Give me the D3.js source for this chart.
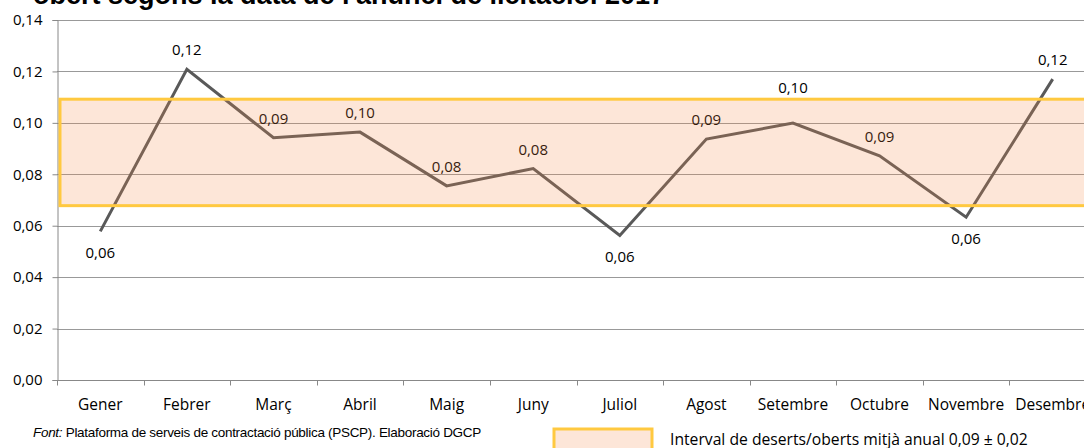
<!DOCTYPE html>
<head>
<meta charset="utf-8">
</head>
<style>
  body { margin: 0; background: #fff; }
  svg { display: block; }
  .tick text { font-family: 'Open Sans', sans-serif; font-size: 15px; fill: #000; }
</style>
<svg width="1084" height="448"></svg>
<script src="https://d3js.org/d3.v7.min.js"></script>
<script>
// data
var months = ["Gener", "Febrer", "Març", "Abril", "Maig", "Juny", "Juliol",
              "Agost", "Setembre", "Octubre", "Novembre", "Desembre"];
var ratio = [0.0578, 0.1208, 0.0942, 0.0964, 0.0755, 0.0822, 0.0562,
             0.0937, 0.0999, 0.0872, 0.0633, 0.1170];
var labels = ["0,06", "0,12", "0,09", "0,10", "0,08", "0,08", "0,06",
              "0,09", "0,10", "0,09", "0,06", "0,12"];
var labelSide = ["below", "above", "above", "above", "above", "above", "below",
                 "above", "high", "above", "below", "above"];
var yTicks = [0, 0.02, 0.04, 0.06, 0.08, 0.10, 0.12, 0.14];
var bandLow = 0.0678, bandHigh = 0.1092;

var svg = d3.select("svg"),
    mLeft = 57, mRight = 1096, mTop = 20, mBottom = 380;

var x = d3.scaleBand().domain(months).range([mLeft, mRight]);
var y = d3.scaleLinear().domain([0, 0.14]).range([mBottom, mTop]);
var fmt = function(v) { return d3.format(".2f")(v).replace(".", ","); };

// title (mostly cropped at top)
svg.append("text")
    .attr("x", 33).attr("y", 4)
    .attr("font-family", "'Liberation Sans', Arial, sans-serif")
    .attr("font-weight", "bold")
    .attr("font-size", 27)
    .text("obert segons la data de l'anunci de licitació. 2017");

// gridlines
svg.append("g")
  .selectAll("line")
  .data(yTicks.slice(1))
  .enter().append("line")
    .attr("x1", mLeft).attr("x2", 1084)
    .attr("y1", function(d) { return Math.round(y(d)) + 0.5; })
    .attr("y2", function(d) { return Math.round(y(d)) + 0.5; })
    .attr("stroke", "#999").attr("stroke-width", 1.2);

// y axis
var yAxis = svg.append("g")
    .attr("transform", "translate(" + (mLeft + 0.5) + ",0)")
    .call(d3.axisLeft(y).tickValues(yTicks).tickFormat(fmt).tickSize(5).tickPadding(10));
yAxis.selectAll("line, path").attr("stroke", "#888");

// x axis, ticks between categories
var xg = svg.append("g").attr("transform", "translate(0," + (Math.round(y(0)) + 0.5) + ")");
xg.append("line").attr("x1", mLeft).attr("x2", 1084).attr("stroke", "#888");
xg.selectAll(".tk")
  .data(months)
  .enter().append("line")
    .attr("x1", function(d) { return Math.round(x(d)) + 0.5; })
    .attr("x2", function(d) { return Math.round(x(d)) + 0.5; })
    .attr("y1", 0).attr("y2", 5)
    .attr("stroke", "#888");
xg.selectAll("text")
  .data(months)
  .enter().append("text")
    .attr("x", function(d) { return x(d) + x.bandwidth() / 2; })
    .attr("y", 29)
    .attr("text-anchor", "middle")
    .attr("font-family", "'Open Sans', sans-serif")
    .attr("font-size", 15.5)
    .text(function(d) { return d; });

// line
var line = d3.line()
    .x(function(d, i) { return x(months[i]) + x.bandwidth() / 2; })
    .y(function(d) { return y(d); });

svg.append("path")
    .datum(ratio)
    .attr("fill", "none")
    .attr("stroke", "#595959")
    .attr("stroke-width", 3)
    .attr("d", line);

// data labels
svg.append("g")
  .selectAll("text")
  .data(ratio)
  .enter().append("text")
    .attr("x", function(d, i) { return x(months[i]) + x.bandwidth() / 2; })
    .attr("y", function(d, i) {
      var s = labelSide[i];
      if (s === "below") return y(d) + 27;
      if (s === "high") return y(d) - 30;
      return y(d) - 14;
    })
    .attr("text-anchor", "middle")
    .attr("font-family", "'Open Sans', sans-serif")
    .attr("font-size", 15)
    .text(function(d, i) { return labels[i]; });

// average interval band, drawn translucent over the line
svg.append("rect")
    .attr("x", mLeft + 3)
    .attr("y", y(bandHigh))
    .attr("width", 1100 - mLeft)
    .attr("height", y(bandLow) - y(bandHigh))
    .attr("fill", "rgb(245,136,70)")
    .attr("fill-opacity", 0.21)
    .attr("stroke", "#ffc940")
    .attr("stroke-width", 3);

// source
var src = svg.append("text")
    .attr("x", 33).attr("y", 437)
    .attr("font-family", "'Liberation Sans', Arial, sans-serif")
    .attr("font-size", 13.5)
    .attr("letter-spacing", -0.3);
src.append("tspan").attr("font-style", "italic").text("Font:");
src.append("tspan").text(" Plataforma de serveis de contractació pública (PSCP).  Elaboració DGCP");

// legend
svg.append("rect")
    .attr("x", 554).attr("y", 429)
    .attr("width", 98).attr("height", 22)
    .attr("fill", "rgb(245,136,70)")
    .attr("fill-opacity", 0.21)
    .attr("stroke", "#ffc940")
    .attr("stroke-width", 3);
svg.append("text")
    .attr("x", 670).attr("y", 445)
    .attr("font-family", "'Open Sans', sans-serif")
    .attr("font-size", 15.7)
    .text("Interval de deserts/oberts mitjà  anual 0,09 ± 0,02");
</script>
